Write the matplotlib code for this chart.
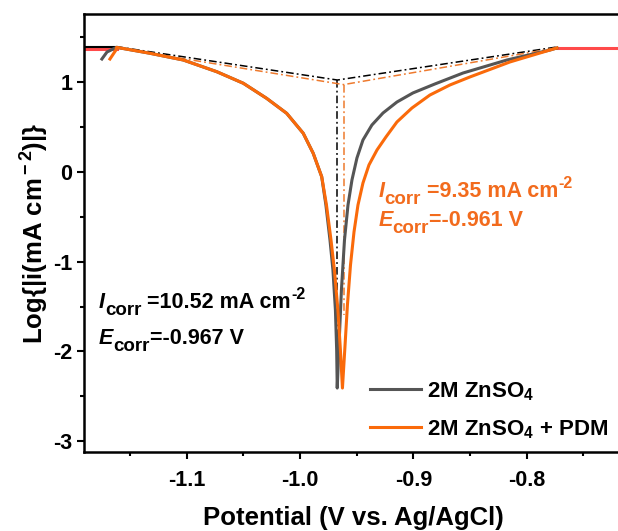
import matplotlib
matplotlib.use('Agg')
import matplotlib.pyplot as plt
import matplotlib.transforms as mtransforms
from matplotlib.ticker import MultipleLocator

plt.rcParams['font.family'] = ['Liberation Sans', 'DejaVu Sans']
plt.rcParams['font.weight'] = 'bold'
plt.rcParams['mathtext.fontset'] = 'custom'
plt.rcParams['mathtext.rm'] = 'Liberation Sans:bold'
plt.rcParams['mathtext.it'] = 'Liberation Sans:italic:bold'
plt.rcParams['mathtext.bf'] = 'Liberation Sans:bold'

# 2M ZnSO4 (potential V, log|i|)
e_zn = [-1.1748, -1.1703, -1.1618, -1.1324, -1.1030, -1.0735, -1.0500, -1.0294,
        -1.0117, -0.9971, -0.9883, -0.9808, -0.9771, -0.9735, -0.9709, -0.9687,
        -0.9676, -0.9671,
        -0.9656, -0.9634, -0.9607, -0.9576, -0.9541, -0.9497, -0.9444, -0.9365,
        -0.9267, -0.9144, -0.9003, -0.8809, -0.8561, -0.8173, -0.7794, -0.7732]
logi_zn = [1.256, 1.334, 1.386, 1.320, 1.245, 1.115, 0.986, 0.818,
           0.651, 0.429, 0.206, -0.055, -0.370, -0.759, -1.093, -1.539,
           -1.984, -2.408,
           -1.951, -1.316, -0.759, -0.370, -0.091, 0.154, 0.354, 0.521,
           0.655, 0.777, 0.878, 0.978, 1.100, 1.245, 1.356, 1.379]

# 2M ZnSO4 + PDM
e_pdm = [-1.1677, -1.1624, -1.1618, -1.1324, -1.1030, -1.0735, -1.0500, -1.0294,
         -1.0117, -0.9971, -0.9883, -0.9808, -0.9766, -0.9726, -0.9696, -0.9665,
         -0.9643, -0.9625,
         -0.9603, -0.9581, -0.9554, -0.9523, -0.9488, -0.9444, -0.9391, -0.9320,
         -0.9241, -0.9144, -0.9012, -0.8853, -0.8676, -0.8500, -0.8147, -0.7794,
         -0.7732]
logi_pdm = [1.256, 1.356, 1.386, 1.320, 1.245, 1.115, 0.986, 0.818,
            0.651, 0.429, 0.206, -0.055, -0.370, -0.759, -1.093, -1.539,
            -1.984, -2.408,
            -1.951, -1.483, -1.038, -0.670, -0.370, -0.125, 0.076, 0.243,
            0.388, 0.555, 0.710, 0.855, 0.967, 1.056, 1.223, 1.356,
            1.379]

# Tafel fit lines: left end, vertex (Ecorr, log Icorr), right end
tafel_zn_e = [-1.1618, -0.967, -0.7732]
tafel_zn_i = [1.393, 1.022, 1.390]
tafel_pdm_e = [-1.1618, -0.9615, -0.7732]
tafel_pdm_i = [1.380, 0.971, 1.380]
vert_zn = [1.022, -1.9]
vert_pdm = [0.971, -1.6]

# flat segments at both ends
flat_left_e = [-1.20, -1.1618]
flat_right_e = [-0.7732, -0.70]

gray = '#555555'
orange = '#FA6A0A'
orange_txt = '#F26B1D'
red = '#FF4A4A'

fig = plt.figure(figsize=(6.18, 5.31), dpi=100)
ax = fig.add_axes([0.1359, 0.1488, 0.872, 0.8248])
ax.set_xlim(-1.1906, -0.715)
ax.set_ylim(-3.12, 1.757)

ax.plot(flat_left_e, [1.37, 1.37], color=red, lw=2.2)
ax.plot(flat_left_e, [1.39, 1.39], color='black', lw=1.5)
ax.plot(flat_right_e, [1.375, 1.375], color=red, lw=2.2)

ax.plot(tafel_zn_e, tafel_zn_i, color='black', lw=1.1, dashes=(5, 2, 1.2, 2))
ax.plot([-0.967, -0.967], vert_zn, color='black', lw=1.1, dashes=(5, 2, 1.2, 2))
ax.plot(tafel_pdm_e, tafel_pdm_i, color='#EE7A2E', lw=1.1, dashes=(5, 2, 1.2, 2))
ax.plot([-0.9615, -0.9615], vert_pdm, color='#EE7A2E', lw=1.1, dashes=(5, 2, 1.2, 2))

ax.plot(e_zn, logi_zn, color=gray, lw=2.2, label='2M ZnSO$_{\\rm 4}$')
ax.plot(e_pdm, logi_pdm, color=orange, lw=2.2, label='2M ZnSO$_{\\rm 4}$ + PDM')

renderer = fig.canvas.get_renderer()


def rich_line(x, y, parts, color):
    # pieces of text one after another, each with its own size / shift (pixels)
    dx = 0
    for s, size, style, dy in parts:
        tr = mtransforms.offset_copy(ax.transData, fig=fig, x=dx, y=dy, units='dots')
        t = ax.text(x, y, s, fontsize=size, fontstyle=style, fontweight='bold',
                    color=color, va='baseline', transform=tr)
        dx += t.get_window_extent(renderer).width


rich_line(-1.1774, -1.517, [('I', 15.5, 'italic', 0), ('corr', 13.5, 'normal', -7),
                            (' =10.52 mA cm', 15.5, 'normal', 0), ('-2', 11.5, 'normal', 9)], 'black')
rich_line(-1.1774, -1.918, [('E', 15.5, 'italic', 0), ('corr', 13.5, 'normal', -7),
                            ('=-0.967 V', 15.5, 'normal', 0)], 'black')
rich_line(-0.931, -0.277, [('I', 15.5, 'italic', 0), ('corr', 13.5, 'normal', -7),
                           (' =9.35 mA cm', 15.5, 'normal', 0), ('-2', 11.5, 'normal', 9)], orange_txt)
rich_line(-0.931, -0.604, [('E', 15.5, 'italic', 0), ('corr', 13.5, 'normal', -7),
                           ('=-0.961 V', 15.5, 'normal', 0)], orange_txt)

ax.xaxis.set_minor_locator(MultipleLocator(0.05))
ax.yaxis.set_minor_locator(MultipleLocator(0.5))
ax.set_xticks([-1.1, -1.0, -0.9, -0.8])
ax.set_xticklabels(['-1.1', '-1.0', '-0.9', '-0.8'])
ax.set_yticks([-3, -2, -1, 0, 1])
ax.set_yticklabels(['-3', '-2', '-1', '0', '1'])

ax.tick_params(which='major', direction='out', length=5, width=1.5, labelsize=15.5, pad=8)
ax.tick_params(which='minor', direction='out', length=3, width=1.5)
ax.tick_params(axis='y', which='major', pad=3.5)
for s in ax.spines.values():
    s.set_linewidth(1.8)

ax.set_xlabel('Potential (V vs. Ag/AgCl)', fontsize=18.5, fontweight='bold')
ax.set_ylabel(r'Log{|i(mA cm$^{\rm -2}$)|}', fontsize=18.5, fontweight='bold')
ax.xaxis.set_label_coords(0.5, -0.123)
ax.yaxis.set_label_coords(-0.062, 0.5)

ax.legend(loc='upper left', bbox_to_anchor=(370 / 618, 1 - 380 / 531),
          bbox_transform=fig.transFigure, frameon=False,
          borderpad=0, borderaxespad=0, handlelength=2.3, handletextpad=0.27,
          labelspacing=0.7, prop={'weight': 'bold', 'size': 16})

fig.savefig('out.png', dpi=100)
